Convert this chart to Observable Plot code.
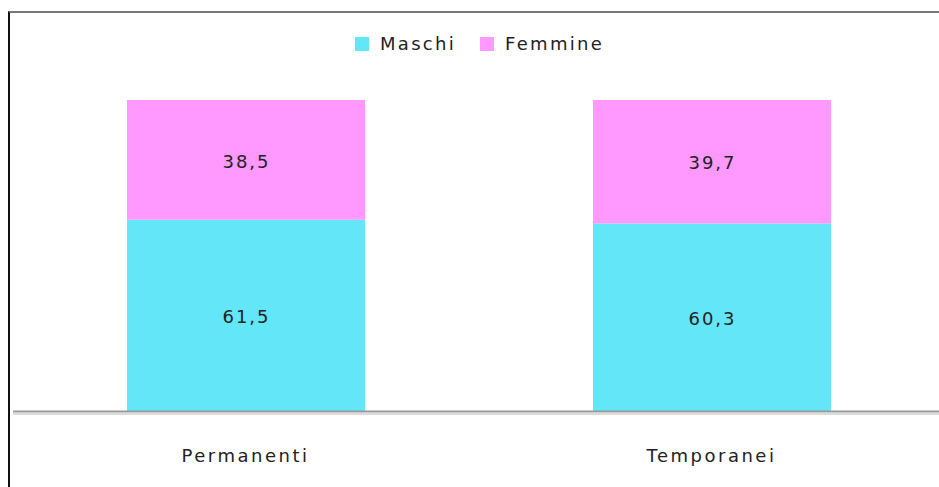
<!DOCTYPE html>
<html><head><meta charset="utf-8">
<script src="https://cdn.jsdelivr.net/npm/d3@7"></script>
<script src="https://cdn.jsdelivr.net/npm/@observablehq/plot@0.6"></script>
<style>
body{margin:0;background:#fff;font-family:"DejaVu Sans",sans-serif;}
#wrap{position:relative;width:939px;height:487px;overflow:hidden;}
#frame{position:absolute;left:8px;top:11px;width:1000px;height:600px;border-left:2px solid #111;border-top:2px solid #777;box-sizing:border-box;}
#legend{position:absolute;top:33px;left:355px;display:flex;font-size:18px;line-height:22px;color:#222;letter-spacing:2.3px;}
#legend .item{display:flex;align-items:center;margin-right:24px;}
#legend span.sw{display:inline-block;width:14px;height:14px;margin-right:11px;}
#chart{position:absolute;left:0;top:0;}
</style></head>
<body>
<div id="wrap"><div id="frame"></div><div id="chart"></div><div id="legend"></div></div>
<script>
const categories = ["Permanenti", "Temporanei"];
const series = ["Maschi", "Femmine"];
const maschi = [61.5, 60.3];
const femmine = [38.5, 39.7];
const colors = ["#62E6F8", "#FF99FF"];

const data = [];
categories.forEach((c, i) => {
  data.push({cat: c, sex: "Maschi", value: maschi[i]});
  data.push({cat: c, sex: "Femmine", value: femmine[i]});
});
const fmt = v => v.toFixed(1).replace(".", ",");

const chart = Plot.plot({
  width: 939, height: 487,
  marginLeft: 13, marginRight: 0, marginTop: 0, marginBottom: 0,
  style: {fontFamily: "DejaVu Sans, sans-serif", background: "transparent"},
  x: {domain: categories, range: [13, 945], paddingInner: 0.49, paddingOuter: 0.245, axis: null},
  y: {domain: [0, 100], range: [411, 100], axis: null},
  color: {domain: series, range: colors},
  marks: [
    Plot.barY(data, Plot.stackY({x: "cat", y: "value", fill: "sex", order: series})),
    Plot.text(data, Plot.stackY({x: "cat", y: "value", z: "sex", order: series, text: d => fmt(d.value), fill: "#222", fontSize: 18, dy: 1.5, dx: 0})),
    Plot.ruleY([0], {stroke: "#dcdcdc", strokeWidth: 2, dy: 2.5}),
    Plot.ruleY([0], {stroke: "#9a9a9a", strokeWidth: 2}),
    Plot.text(categories, {x: d => d, y: () => 0, text: d => d, dy: 44.5, dx: -1, fontSize: 18, fill: "#222"})
  ]
});
chart.querySelectorAll("text").forEach(t => {
  const isCat = categories.includes(t.textContent);
  const ls = isCat ? "2.5" : "2";
  t.setAttribute("letter-spacing", ls);
  t.style.letterSpacing = ls + "px";
});
document.getElementById("chart").append(chart);

const leg = document.getElementById("legend");
series.forEach((s, i) => {
  const d = document.createElement("div");
  d.className = "item";
  d.innerHTML = `<span class="sw" style="background:${colors[i]}"></span>${s}`;
  leg.append(d);
});
</script>
</body></html>
